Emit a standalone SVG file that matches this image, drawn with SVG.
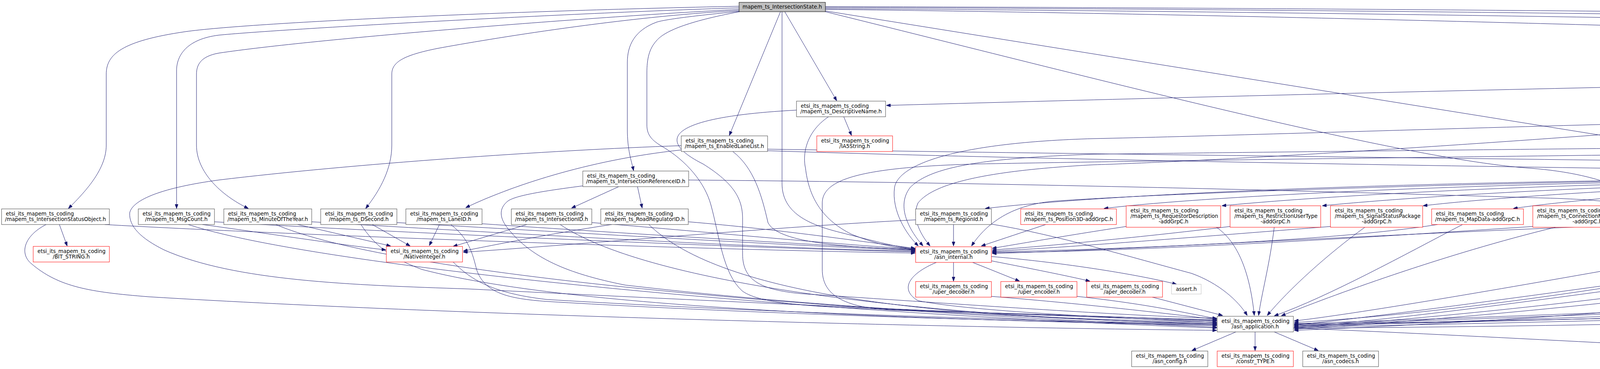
<svg xmlns="http://www.w3.org/2000/svg" width="6709" height="945" viewBox="0 0 6709 945">
<style>
.e{fill:none;stroke:#191970;stroke-width:1;marker-end:url(#ah)}
.node rect{fill:#ffffff;stroke:#404040;stroke-width:1}
.node.r rect{stroke:#ff0000}
.node.g rect{stroke:#bfbfbf}
.node.root rect{fill:#bfbfbf;stroke:#000000}
text{font-family:"DejaVu Sans","Liberation Sans",sans-serif;font-size:13.33px;fill:#000000}
.m{text-anchor:middle}
</style>
<defs>
<marker id="ah" markerUnits="userSpaceOnUse" markerWidth="11" markerHeight="8" refX="11" refY="4" orient="auto"><path d="M0,0L11,4L0,8z" fill="#191970" stroke="#191970" stroke-width="1"/></marker>
</defs>
<rect x="0" y="0" width="6709" height="945" fill="#ffffff"/>
<g id="edges">
<path class="e" d="M1892,16 C1300,28 640,58 475,81 C310,105 272,140 272,190 L272,372 C272,430 225,485 175,534"/>
<path class="e" d="M1892,20 C1400,36 700,76 560,90 C480,100 452,140 452,181 L452,534"/>
<path class="e" d="M1892,24 C1500,44 800,100 560,136 C515,144 503,165 503,190 L503,372 C503,440 565,500 636,534"/>
<path class="e" d="M1892,27 C1600,42 1250,100 1120,124 C1030,142 1003,160 1003,190 L1003,372 C1003,430 975,485 936,534"/>
<path class="e" d="M1893,29 C1780,40 1700,50 1680,57 C1625,78 1606,115 1606,160 L1606,330 C1606,385 1616,410 1622,437"/>
<path class="e" d="M1893,30 C1760,55 1700,80 1680,105 C1662,125 1656,150 1656,187 L1656,320 C1656,345 1668,358 1690,372 C1760,412 1805,470 1820,525 C1842,605 1850,700 1900,745 C1950,782 2100,787 2400,797 C2700,807 2950,815 3115,819"/>
<path class="e" d="M1998,30 L1867,347"/>
<path class="e" d="M2009,30 L2142,258"/>
<path class="e" d="M2002,30 L2002,470 C2002,545 2070,575 2150,595 C2230,615 2290,632 2343,638"/>
<path class="e" d="M2113,19 C3500,24 5500,48 6191,80"/>
<path class="e" d="M2113,17 C3500,20 5600,40 6400,61 C6462,70 6490,110 6490,180 L6490,285 C6490,350 6430,400 6384,436"/>
<path class="e" d="M2113,22 C3500,30 5200,62 5900,80 C6080,92 6146,130 6146,181 L6146,330 C6146,380 6140,412 6138,436"/>
<path class="e" d="M2113,24 C3500,40 5000,90 5600,114 C5800,122 5890,140 5915,170 C5935,200 5940,230 5941,257"/>
<path class="e" d="M2113,28 L4651,435"/>
<path class="e" d="M2113,30 C2800,200 3600,410 3920,431 C4100,445 4260,500 4291,630"/>
<path class="e" d="M6192,112 C6100,125 5975,158 5903,170"/>
<path class="e" d="M6305,121 C6340,180 6353,300 6353,436"/>
<path class="e" d="M6289,121 C6240,200 6180,330 6148,436"/>
<path class="e" d="M6369,121 C6480,150 6542,210 6542,280 L6542,650 C6542,672 6570,678 6600,681 C6200,720 4200,800 3313,829"/>
<path class="e" d="M5823,210 L5900,257"/>
<path class="e" d="M5720,210 L4860,436"/>
<path class="e" d="M5682,195 C4500,210 3000,250 2269,270"/>
<path class="e" d="M5901,202 C6000,215 6080,240 6110,290 C6128,340 6132,400 6132,436"/>
<path class="e" d="M5901,205 C6050,225 6200,300 6337,436"/>
<path class="e" d="M5901,208 C6100,235 6300,320 6430,400 C6480,440 6490,500 6490,560 L6490,650 C6490,672 6560,679 6600,681 C6200,725 4200,805 3313,832"/>
<path class="e" d="M5682,205 C4500,330 3200,410 2800,422 C2500,438 2385,475 2350,520 C2332,560 2360,605 2381,630"/>
<path class="e" d="M5917,299 L5808,346"/>
<path class="e" d="M5960,299 L6108,436"/>
<path class="e" d="M5983,299 C6100,330 6200,380 6304,436"/>
<path class="e" d="M5946,299 C6000,380 6050,520 6045,630 C6040,720 5950,770 5850,780 C5000,815 4000,838 3313,840"/>
<path class="e" d="M5818,282 C4500,300 3300,345 2800,355 C2450,365 2300,420 2290,480 C2282,540 2320,600 2351,630"/>
<path class="e" d="M5617,384 C5300,400 5000,430 4898,446"/>
<path class="e" d="M5843,388 C5950,400 6020,418 6046,436"/>
<path class="e" d="M5908,385 C6050,400 6180,425 6252,437"/>
<path class="e" d="M5617,366 C4500,375 3200,390 2800,395 C2500,405 2380,430 2330,480 C2292,530 2330,592 2363,630"/>
<path class="e" d="M5617,380 C4500,392 3000,410 2500,420 C2200,428 2105,460 2105,520 L2105,690 C2105,750 2150,790 2300,795 C2700,805 2950,815 3115,821"/>
<path class="e" d="M152,575 L172,630"/>
<path class="e" d="M118,575 C60,605 50,650 80,675 C150,735 230,748 380,760 C1200,810 2500,840 3115,846"/>
<path class="e" d="M268,575 C700,600 1800,640 2343,648"/>
<path class="e" d="M518,575 C700,600 880,628 988,640"/>
<path class="e" d="M549,568 C1000,595 1900,635 2343,645"/>
<path class="e" d="M482,575 C800,680 2000,800 3115,840"/>
<path class="e" d="M762,575 L1000,630"/>
<path class="e" d="M706,575 C1000,700 2000,790 3115,838"/>
<path class="e" d="M798,568 C1300,598 2000,638 2343,643"/>
<path class="e" d="M953,575 L1050,630"/>
<path class="e" d="M924,575 C960,630 1000,660 1080,690 C1500,800 2500,820 3115,834"/>
<path class="e" d="M1016,570 C1500,598 2100,633 2343,641"/>
<path class="e" d="M1125,575 L1099,629"/>
<path class="e" d="M1154,575 C1200,610 1210,650 1220,690 C1240,750 1300,765 1400,772 C2000,808 2700,825 3115,832"/>
<path class="e" d="M1234,573 C1600,598 2100,628 2343,640"/>
<path class="e" d="M1349,575 L1160,631"/>
<path class="e" d="M1434,575 C1650,720 2300,810 3115,830"/>
<path class="e" d="M1515,570 C1800,593 2100,623 2343,638"/>
<path class="e" d="M1566,575 C1400,600 1250,630 1186,643"/>
<path class="e" d="M1661,575 C1850,760 2400,815 3115,828"/>
<path class="e" d="M1762,568 C2000,588 2200,618 2343,636"/>
<path class="e" d="M2441,575 L2441,630"/>
<path class="e" d="M2344,563 C2000,580 1500,625 1186,646"/>
<path class="e" d="M2538,574 C2700,600 2900,660 3050,700 C3120,725 3170,770 3193,808"/>
<path class="e" d="M2677,575 L2512,630"/>
<path class="e" d="M3114,582 C3170,620 3200,700 3211,808"/>
<path class="e" d="M2883,580 C2750,600 2600,626 2540,636"/>
<path class="e" d="M3262,582 C3250,680 3230,750 3222,808"/>
<path class="e" d="M3149,580 C2900,610 2650,633 2540,640"/>
<path class="e" d="M3494,582 C3400,650 3300,740 3244,808"/>
<path class="e" d="M3406,580 C3000,612 2700,636 2540,643"/>
<path class="e" d="M3744,575 C3600,650 3400,760 3262,809"/>
<path class="e" d="M3680,575 C3400,620 2800,640 2540,645"/>
<path class="e" d="M4127,582 L4235,630"/>
<path class="e" d="M3982,582 C3700,650 3400,760 3280,809"/>
<path class="e" d="M3924,580 C3400,615 2900,644 2540,647"/>
<path class="e" d="M4395,582 L4328,630"/>
<path class="e" d="M4434,582 C4435,640 4420,680 4360,695 C4000,760 3600,810 3313,826"/>
<path class="e" d="M4329,570 C3500,600 2900,640 2540,649"/>
<path class="e" d="M4566,580 C4480,600 4430,630 4391,648"/>
<path class="e" d="M4628,582 C4550,640 4450,690 4300,705 C3900,760 3500,815 3313,832"/>
<path class="e" d="M4788,580 C4600,610 4450,640 4391,655"/>
<path class="e" d="M4841,582 C4600,680 4300,720 4000,760 C3700,800 3450,830 3313,836"/>
<path class="e" d="M5040,575 C4800,610 4500,648 4391,660"/>
<path class="e" d="M5080,575 C4800,690 4000,790 3313,840"/>
<path class="e" d="M5242,575 C4800,610 4500,655 4391,664"/>
<path class="e" d="M5256,582 C4900,700 4000,800 3313,843"/>
<path class="e" d="M5532,578 C5000,610 4600,660 4391,667"/>
<path class="e" d="M5542,582 C5200,720 4200,810 3313,846"/>
<path class="e" d="M4755,478 L4703,526"/>
<path class="e" d="M4802,478 L4855,526"/>
<path class="e" d="M4710,478 L4537,526"/>
<path class="e" d="M4846,478 L5039,533"/>
<path class="e" d="M4896,476 C5050,490 5180,510 5236,527"/>
<path class="e" d="M4896,472 C5200,488 5420,508 5527,527"/>
<path class="e" d="M4661,470 C4500,490 4300,520 4204,533"/>
<path class="e" d="M4661,468 C4300,488 4000,515 3874,534"/>
<path class="e" d="M4661,466 C4200,480 3800,508 3643,527"/>
<path class="e" d="M4661,464 C4100,474 3600,505 3385,527"/>
<path class="e" d="M4661,462 C4000,468 3400,500 3128,527"/>
<path class="e" d="M4661,460 C3900,464 3100,500 2826,534"/>
<path class="e" d="M4661,458 C3800,460 2900,490 2522,534"/>
<path class="e" d="M4661,456 C3800,466 3000,494 2700,515 C2580,525 2520,580 2487,630"/>
<path class="e" d="M4896,478 C5200,490 5420,500 5470,530 C5500,555 5480,580 5420,586 C5000,610 4600,640 4391,652"/>
<path class="e" d="M4896,470 C5300,474 5800,500 5900,520 C5960,540 5950,590 5937,630"/>
<path class="e" d="M4896,474 C5300,480 5750,500 5870,520 C5905,540 5900,585 5850,610 C5810,635 5800,680 5796,719"/>
<path class="e" d="M4896,478 C5400,485 5900,510 6000,560 C6060,600 6060,680 6000,720 C5900,790 5750,815 5634,828"/>
<path class="e" d="M6170,478 L6265,532"/>
<path class="e" d="M6136,478 C6150,540 6160,640 6120,720 C6080,760 5900,772 5700,776 C4800,800 3800,825 3313,830"/>
<path class="e" d="M6377,478 C6420,510 6440,560 6420,590 C6405,610 6390,620 6380,630"/>
<path class="e" d="M6312,575 L6338,630"/>
<path class="e" d="M6285,575 C6220,660 6150,740 6000,765 C5000,800 4000,825 3313,838"/>
<path class="e" d="M5930,672 C5935,720 5920,760 5860,766 C5000,792 4000,820 3313,834"/>
<path class="e" d="M5696,759 C5000,780 4000,815 3313,836"/>
<path class="e" d="M5437,846 C5250,862 5100,890 5006,904"/>
<path class="e" d="M3164,850 L3051,898"/>
<path class="e" d="M3213,850 L3213,898"/>
<path class="e" d="M3262,850 L3375,898"/>
<path class="e" d="M3311,840 C3800,860 4400,895 4808,913"/>
<path class="e" d="M2441,672 L2441,720"/>
<path class="e" d="M2490,672 L2610,720"/>
<path class="e" d="M2538,668 C2650,690 2740,708 2790,720"/>
<path class="e" d="M2538,657 C2700,670 2900,700 3012,728"/>
<path class="e" d="M2397,672 C2330,700 2300,740 2350,770 C2500,800 2900,815 3115,826"/>
<path class="e" d="M2538,759 C2800,780 3000,805 3115,818"/>
<path class="e" d="M2757,759 C2950,780 3050,805 3115,816"/>
<path class="e" d="M2950,761 L3130,808"/>
<path class="e" d="M4227,672 C3900,730 3500,800 3313,822"/>
<path class="e" d="M1160,671 C1200,710 1250,750 1400,767 C2000,803 2700,823 3115,830"/>
<path class="e" d="M2160,299 L2180,347"/>
<path class="e" d="M2121,299 C2060,340 2055,400 2062,430 C2070,500 2100,560 2180,600 C2250,628 2300,636 2343,637"/>
<path class="e" d="M2039,282 C1700,300 1680,360 1800,420 C1880,470 1901,510 1901,560 L1901,650 C1901,720 1950,742 2050,752 C2500,782 2900,810 3115,815"/>
<path class="e" d="M1744,384 C1500,410 1300,480 1192,532"/>
<path class="e" d="M1876,388 C1930,430 1950,500 1966,570 C1990,620 2150,633 2343,639"/>
<path class="e" d="M1744,373 C1400,385 900,420 560,461 C420,480 340,510 332,545 C330,580 360,610 420,640 C600,720 900,730 1200,740 C2000,780 2800,815 3115,822"/>
<path class="e" d="M1965,382 C3000,398 5000,420 6252,438"/>
<path class="e" d="M1965,386 C3000,420 5000,445 6031,452"/>
<path class="e" d="M1584,478 L1463,533"/>
<path class="e" d="M1632,478 L1644,533"/>
<path class="e" d="M1492,476 C1400,488 1320,500 1300,515 C1275,535 1280,560 1300,585 C1360,660 1450,700 1600,730 C2200,800 2800,820 3115,825"/>
<path class="e" d="M1763,461 C2800,470 3700,500 3950,507 C4150,512 4230,530 4255,560 C4275,585 4282,605 4284,630"/>
</g>
<g id="n_root" class="node root"><rect x="1892" y="6" width="221" height="24"/><text x="2002.5" y="22" class="m">mapem_ts_IntersectionState.h</text></g>
<g id="n_MovementList" class="node"><rect x="6192" y="81" width="211" height="40"/><text x="6203" y="97.5">etsi_its_mapem_ts_coding</text><text x="6297.5" y="111.5" class="m">/mapem_ts_MovementList.h</text></g>
<g id="n_MovementState" class="node r"><rect x="5682" y="170" width="219" height="40"/><text x="5693" y="186.5">etsi_its_mapem_ts_coding</text><text x="5791.5" y="200.5" class="m">/mapem_ts_MovementState.h</text></g>
<g id="n_DescriptiveName" class="node"><rect x="2039" y="259" width="228" height="40"/><text x="2050" y="275.5">etsi_its_mapem_ts_coding</text><text x="2153" y="289.5" class="m">/mapem_ts_DescriptiveName.h</text></g>
<g id="n_ManeuverAssistList" class="node"><rect x="5818" y="259" width="241" height="40"/><text x="5829" y="275.5">etsi_its_mapem_ts_coding</text><text x="5938.5" y="289.5" class="m">/mapem_ts_ManeuverAssistList.h</text></g>
<g id="n_EnabledLaneList" class="node"><rect x="1744" y="348" width="221" height="40"/><text x="1755" y="364.5">etsi_its_mapem_ts_coding</text><text x="1854.5" y="378.5" class="m">/mapem_ts_EnabledLaneList.h</text></g>
<g id="n_IA5String" class="node r"><rect x="2091" y="348" width="194" height="40"/><text x="2102" y="364.5">etsi_its_mapem_ts_coding</text><text x="2188" y="378.5" class="m">/IA5String.h</text></g>
<g id="n_ConnectionManeuverAssist" class="node r"><rect x="5617" y="348" width="291" height="40"/><text x="5628" y="364.5">etsi_its_mapem_ts_coding</text><text x="5762.5" y="378.5" class="m">/mapem_ts_ConnectionManeuverAssist.h</text></g>
<g id="n_IntersectionReferenceID" class="node"><rect x="1492" y="438" width="271" height="40"/><text x="1503" y="454.5">etsi_its_mapem_ts_coding</text><text x="1627.5" y="468.5" class="m">/mapem_ts_IntersectionReferenceID.h</text></g>
<g id="n_RegionalExtension" class="node"><rect x="4661" y="438" width="235" height="40"/><text x="4672" y="454.5">etsi_its_mapem_ts_coding</text><text x="4778.5" y="468.5" class="m">/mapem_ts_RegionalExtension.h</text></g>
<g id="n_constr_SEQUENCE_OF" class="node"><rect x="6033" y="438" width="196" height="40"/><text x="6044" y="454.5">etsi_its_mapem_ts_coding</text><text x="6131" y="468.5" class="m">/constr_SEQUENCE_OF.h</text></g>
<g id="n_asn_SEQUENCE_OF" class="node"><rect x="6254" y="438" width="198" height="40"/><text x="6265" y="454.5">etsi_its_mapem_ts_coding</text><text x="6353" y="468.5" class="m">/asn_SEQUENCE_OF.h</text></g>
<g id="n_IntersectionStatusObject" class="node"><rect x="4" y="535" width="276" height="40"/><text x="15" y="551.5">etsi_its_mapem_ts_coding</text><text x="142" y="565.5" class="m">/mapem_ts_IntersectionStatusObject.h</text></g>
<g id="n_MsgCount" class="node"><rect x="354" y="535" width="195" height="40"/><text x="365" y="551.5">etsi_its_mapem_ts_coding</text><text x="451.5" y="565.5" class="m">/mapem_ts_MsgCount.h</text></g>
<g id="n_MinuteOfTheYear" class="node"><rect x="573" y="535" width="225" height="40"/><text x="584" y="551.5">etsi_its_mapem_ts_coding</text><text x="685.5" y="565.5" class="m">/mapem_ts_MinuteOfTheYear.h</text></g>
<g id="n_DSecond" class="node"><rect x="821" y="535" width="195" height="40"/><text x="832" y="551.5">etsi_its_mapem_ts_coding</text><text x="918.5" y="565.5" class="m">/mapem_ts_DSecond.h</text></g>
<g id="n_LaneID" class="node"><rect x="1039" y="535" width="195" height="40"/><text x="1050" y="551.5">etsi_its_mapem_ts_coding</text><text x="1136.5" y="565.5" class="m">/mapem_ts_LaneID.h</text></g>
<g id="n_IntersectionID" class="node"><rect x="1309" y="535" width="206" height="40"/><text x="1320" y="551.5">etsi_its_mapem_ts_coding</text><text x="1412" y="565.5" class="m">/mapem_ts_IntersectionID.h</text></g>
<g id="n_RoadRegulatorID" class="node"><rect x="1538" y="535" width="224" height="40"/><text x="1549" y="551.5">etsi_its_mapem_ts_coding</text><text x="1650" y="565.5" class="m">/mapem_ts_RoadRegulatorID.h</text></g>
<g id="n_RegionId" class="node"><rect x="2344" y="535" width="194" height="40"/><text x="2355" y="551.5">etsi_its_mapem_ts_coding</text><text x="2441" y="565.5" class="m">/mapem_ts_RegionId.h</text></g>
<g id="n_Position3D" class="node r"><rect x="2613" y="535" width="245" height="40"/><text x="2624" y="551.5">etsi_its_mapem_ts_coding</text><text x="2735.5" y="565.5" class="m">/mapem_ts_Position3D-addGrpC.h</text></g>
<g id="n_RequestorDescription" class="node r"><rect x="2883" y="527" width="242" height="55"/><text x="2894" y="543.5">etsi_its_mapem_ts_coding</text><text x="2894" y="557.5">/mapem_ts_RequestorDescription</text><text x="3004" y="572" class="m">-addGrpC.h</text></g>
<g id="n_RestrictionUserType" class="node r"><rect x="3149" y="527" width="232" height="55"/><text x="3160" y="543.5">etsi_its_mapem_ts_coding</text><text x="3160" y="557.5">/mapem_ts_RestrictionUserType</text><text x="3265" y="572" class="m">-addGrpC.h</text></g>
<g id="n_SignalStatusPackage" class="node r"><rect x="3406" y="527" width="236" height="55"/><text x="3417" y="543.5">etsi_its_mapem_ts_coding</text><text x="3417" y="557.5">/mapem_ts_SignalStatusPackage</text><text x="3524" y="572" class="m">-addGrpC.h</text></g>
<g id="n_MapData" class="node r"><rect x="3665" y="535" width="235" height="40"/><text x="3676" y="551.5">etsi_its_mapem_ts_coding</text><text x="3782.5" y="565.5" class="m">/mapem_ts_MapData-addGrpC.h</text></g>
<g id="n_CMA_addGrpC" class="node r"><rect x="3924" y="527" width="279" height="55"/><text x="3935" y="543.5">etsi_its_mapem_ts_coding</text><text x="3935" y="557.5">/mapem_ts_ConnectionManeuverAssist</text><text x="4063.5" y="572" class="m">-addGrpC.h</text></g>
<g id="n_IS_addGrpC" class="node r"><rect x="4329" y="527" width="213" height="55"/><text x="4340" y="543.5">etsi_its_mapem_ts_coding</text><text x="4340" y="557.5">/mapem_ts_IntersectionState</text><text x="4435.5" y="572" class="m">-addGrpC.h</text></g>
<g id="n_LaneAttributes" class="node r"><rect x="4566" y="527" width="198" height="55"/><text x="4577" y="543.5">etsi_its_mapem_ts_coding</text><text x="4577" y="557.5">/mapem_ts_LaneAttributes</text><text x="4665" y="572" class="m">-addGrpC.h</text></g>
<g id="n_MovementEvent" class="node r"><rect x="4788" y="527" width="210" height="55"/><text x="4799" y="543.5">etsi_its_mapem_ts_coding</text><text x="4799" y="557.5">/mapem_ts_MovementEvent</text><text x="4893" y="572" class="m">-addGrpC.h</text></g>
<g id="n_ANY" class="node r"><rect x="5022" y="535" width="195" height="40"/><text x="5033" y="551.5">etsi_its_mapem_ts_coding</text><text x="5119.5" y="565.5" class="m">/ANY.h</text></g>
<g id="n_NodeAttributeSet" class="node r"><rect x="5242" y="527" width="214" height="55"/><text x="5253" y="543.5">etsi_its_mapem_ts_coding</text><text x="5253" y="557.5">/mapem_ts_NodeAttributeSet</text><text x="5349" y="572" class="m">-addGrpC.h</text></g>
<g id="n_ConnectionTrajectory" class="node r"><rect x="5532" y="527" width="239" height="55"/><text x="5543" y="543.5">etsi_its_mapem_ts_coding</text><text x="5543" y="557.5">/mapem_ts_ConnectionTrajectory</text><text x="5651.5" y="572" class="m">-addGrpC.h</text></g>
<g id="n_constr_SET_OF" class="node"><rect x="6202" y="535" width="199" height="40"/><text x="6213" y="551.5">etsi_its_mapem_ts_coding</text><text x="6301.5" y="565.5" class="m">/constr_SET_OF.h</text></g>
<g id="n_BIT_STRING" class="node r"><rect x="85" y="631" width="195" height="40"/><text x="96" y="647.5">etsi_its_mapem_ts_coding</text><text x="182.5" y="661.5" class="m">/BIT_STRING.h</text></g>
<g id="n_NativeInteger" class="node r"><rect x="989" y="631" width="195" height="40"/><text x="1000" y="647.5">etsi_its_mapem_ts_coding</text><text x="1086.5" y="661.5" class="m">/NativeInteger.h</text></g>
<g id="n_asn_internal" class="node r"><rect x="2344" y="632" width="194" height="40"/><text x="2355" y="648.5">etsi_its_mapem_ts_coding</text><text x="2441" y="662.5" class="m">/asn_internal.h</text></g>
<g id="n_constr_SEQUENCE" class="node"><rect x="4194" y="632" width="195" height="40"/><text x="4205" y="648.5">etsi_its_mapem_ts_coding</text><text x="4291.5" y="662.5" class="m">/constr_SEQUENCE.h</text></g>
<g id="n_constr_CHOICE" class="node"><rect x="5831" y="632" width="194" height="40"/><text x="5842" y="648.5">etsi_its_mapem_ts_coding</text><text x="5928" y="662.5" class="m">/constr_CHOICE.h</text></g>
<g id="n_asn_SET_OF" class="node"><rect x="6254" y="631" width="198" height="40"/><text x="6265" y="647.5">etsi_its_mapem_ts_coding</text><text x="6353" y="661.5" class="m">/asn_SET_OF.h</text></g>
<g id="n_uper_decoder" class="node r"><rect x="2344" y="721" width="194" height="40"/><text x="2355" y="737.5">etsi_its_mapem_ts_coding</text><text x="2441" y="751.5" class="m">/uper_decoder.h</text></g>
<g id="n_uper_encoder" class="node r"><rect x="2562" y="721" width="195" height="40"/><text x="2573" y="737.5">etsi_its_mapem_ts_coding</text><text x="2659.5" y="751.5" class="m">/uper_encoder.h</text></g>
<g id="n_aper_decoder" class="node r"><rect x="2782" y="721" width="194" height="40"/><text x="2793" y="737.5">etsi_its_mapem_ts_coding</text><text x="2879" y="751.5" class="m">/aper_decoder.h</text></g>
<g id="n_assert" class="node g"><rect x="2999" y="728" width="76" height="25"/><text x="3037" y="745" class="m">assert.h</text></g>
<g id="n_OPEN_TYPE" class="node"><rect x="5696" y="721" width="195" height="40"/><text x="5707" y="737.5">etsi_its_mapem_ts_coding</text><text x="5793.5" y="751.5" class="m">/OPEN_TYPE.h</text></g>
<g id="n_asn_application" class="node"><rect x="3116" y="810" width="195" height="40"/><text x="3127" y="826.5">etsi_its_mapem_ts_coding</text><text x="3213.5" y="840.5" class="m">/asn_application.h</text></g>
<g id="n_asn_ioc" class="node"><rect x="5437" y="810" width="195" height="40"/><text x="5448" y="826.5">etsi_its_mapem_ts_coding</text><text x="5534.5" y="840.5" class="m">/asn_ioc.h</text></g>
<g id="n_asn_config" class="node"><rect x="2897" y="899" width="195" height="40"/><text x="2908" y="915.5">etsi_its_mapem_ts_coding</text><text x="2994.5" y="929.5" class="m">/asn_config.h</text></g>
<g id="n_constr_TYPE" class="node r"><rect x="3116" y="899" width="195" height="40"/><text x="3127" y="915.5">etsi_its_mapem_ts_coding</text><text x="3213.5" y="929.5" class="m">/constr_TYPE.h</text></g>
<g id="n_asn_codecs" class="node"><rect x="3335" y="899" width="194" height="40"/><text x="3346" y="915.5">etsi_its_mapem_ts_coding</text><text x="3432" y="929.5" class="m">/asn_codecs.h</text></g>
<g id="n_asn_system" class="node r"><rect x="4809" y="899" width="195" height="40"/><text x="4820" y="915.5">etsi_its_mapem_ts_coding</text><text x="4906.5" y="929.5" class="m">/asn_system.h</text></g>
</svg>
